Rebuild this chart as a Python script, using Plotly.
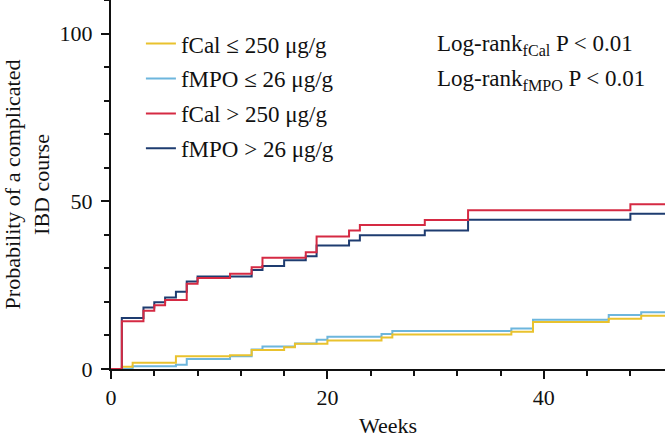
import plotly.graph_objects as go

FONT = "Liberation Serif"

# Kaplan-Meier style cumulative curves (weeks, % probability)
weeks_cal_low = [0, 1, 2, 6, 11, 13, 16, 17, 20, 25, 26, 37, 39, 46, 49, 51.3]
prob_cal_low = [0, 0.7, 1.9, 3.8, 4.1, 5.7, 6.5, 7.5, 8.5, 9.4, 10.3, 11.1, 14.0, 15.0, 15.9, 15.9]

weeks_mpo_low = [0, 2, 6, 7, 11, 13, 14, 17, 19, 20, 25, 26, 37, 39, 46, 49, 51.3]
prob_mpo_low = [0, 0.8, 1.3, 3.0, 3.8, 5.8, 6.7, 7.6, 8.7, 9.6, 10.4, 11.3, 12.1, 14.7, 16.1, 16.9, 16.9]

weeks_cal_high = [0, 1, 3, 4, 5, 7, 8, 11, 13, 14, 18, 19, 22, 23, 29, 33, 48, 51.3]
prob_cal_high = [0, 14.2, 17.4, 19.0, 20.6, 25.4, 27.1, 28.4, 30.3, 33.2, 34.8, 39.5, 41.3, 42.9, 44.4, 47.3, 49.1, 49.1]

weeks_mpo_high = [0, 1, 3, 4, 5, 6, 7, 8, 13, 14, 16, 18, 19, 22, 23, 29, 33, 48, 51.3]
prob_mpo_high = [0, 15.2, 18.3, 19.9, 21.3, 23.0, 26.1, 27.6, 29.5, 30.7, 32.4, 33.6, 36.8, 38.3, 39.9, 41.3, 44.5, 46.3, 46.3]

# drawn bottom to top; legendrank keeps the legend order of the original
series = [
    ("fMPO ≤ 26 μg/g", weeks_mpo_low, prob_mpo_low, "#6DB6DD", 2),
    ("fCal ≤ 250 μg/g", weeks_cal_low, prob_cal_low, "#E9C22E", 1),
    ("fMPO > 26 μg/g", weeks_mpo_high, prob_mpo_high, "#1E3C70", 4),
    ("fCal > 250 μg/g", weeks_cal_high, prob_cal_high, "#D52A43", 3),
]

fig = go.Figure()
for name, x, y, color, rank in series:
    fig.add_trace(go.Scatter(
        x=x, y=y, mode="lines", name=name, legendrank=rank, legendgroup=name,
        line=dict(color=color, width=2, shape="hv"),
    ))

for txt, yy in [("Log-rank<sub>fCal</sub> P < 0.01", 0.878),
                ("Log-rank<sub>fMPO</sub> P < 0.01", 0.783)]:
    fig.add_annotation(
        xref="paper", yref="paper", x=0.585, y=yy, xanchor="left", yanchor="middle",
        text=txt, showarrow=False,
        font=dict(family=FONT, size=23, color="#111"),
    )

axis_common = dict(
    showline=True, linecolor="#111", linewidth=2, showgrid=False, zeroline=False,
    ticks="outside", ticklen=8, tickwidth=2, tickcolor="#111", automargin=False,
    tickfont=dict(family=FONT, size=22, color="#111"),
)

fig.update_layout(
    width=667, height=438,
    margin=dict(l=111, r=2, t=0, b=69),
    paper_bgcolor="white", plot_bgcolor="white",
    font=dict(family=FONT, size=22, color="#111"),
    xaxis=dict(
        **axis_common, range=[0, 51.2], dtick=20, tick0=0,
        minor=dict(dtick=4, ticks="outside", ticklen=5, tickcolor="#111", tickwidth=1.5),
        title=dict(text="Weeks", font=dict(family=FONT, size=22), standoff=8),
    ),
    yaxis=dict(
        **axis_common, range=[0, 110], dtick=50, tick0=0, ticklabelstandoff=4,
        minor=dict(dtick=10, ticks="outside", ticklen=5, tickcolor="#111", tickwidth=1.5),
        title=dict(text="Probability of a complicated<br>IBD course",
                   font=dict(family=FONT, size=22), standoff=10),
    ),
    showlegend=True,
    legend=dict(
        x=0.054, y=0.94, xanchor="left", yanchor="top",
        font=dict(family=FONT, size=23, color="#111"),
        bgcolor="rgba(0,0,0,0)", tracegroupgap=2, itemwidth=30,
    ),
)

# the page body has a default 8px margin; drop it so the figure sits at the corner
fig.write_html("out.html", config={"displayModeBar": False},
               post_script="document.body.style.margin='0';")
